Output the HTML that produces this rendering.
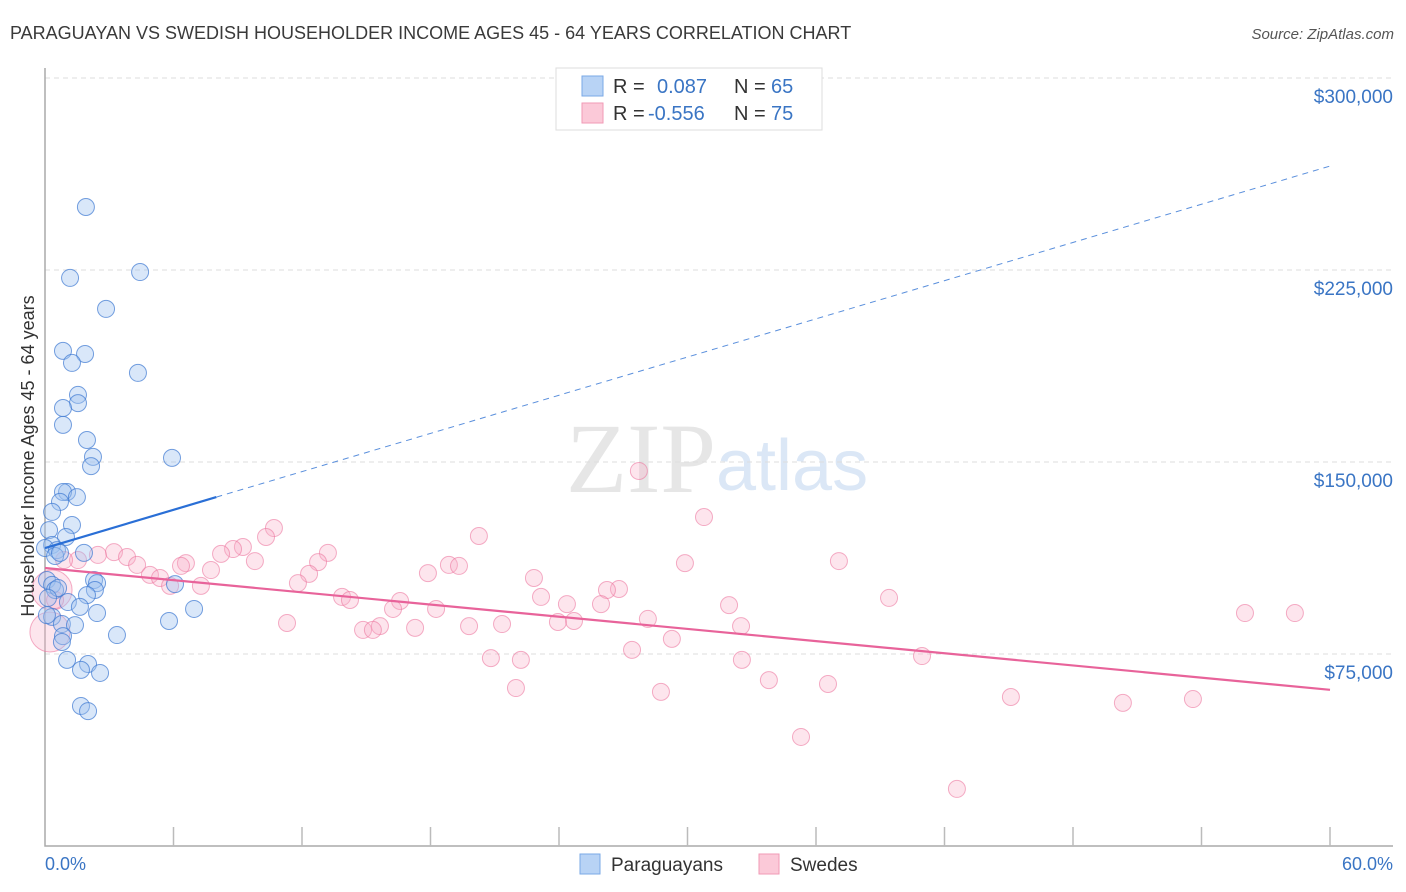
<!DOCTYPE html>
<html><head><meta charset="utf-8"><style>
body{margin:0;background:#fff;font-family:"Liberation Sans",sans-serif;}
#wrap{position:relative;width:1406px;height:892px;overflow:hidden;}
</style></head><body>
<div id="wrap">
<svg id="svg" width="1406" height="892" xmlns="http://www.w3.org/2000/svg">
<text x="10" y="39" font-size="18" fill="#3a3a3a">PARAGUAYAN VS SWEDISH HOUSEHOLDER INCOME AGES 45 - 64 YEARS CORRELATION CHART</text>
<text x="1394" y="39" font-size="15" fill="#555" font-style="italic" text-anchor="end">Source: ZipAtlas.com</text>
<text x="716" y="492" font-size="100" fill="#e6e6e6" text-anchor="end" font-family="Liberation Serif">ZIP</text>
<text x="716" y="490" font-size="72" fill="#dbe7f6">atlas</text>
<g id="grid"></g>
<g id="axes"></g>
<g id="pts"></g>
<g id="lines"></g>
<text transform="translate(34,456) rotate(-90)" font-size="18" fill="#333" text-anchor="middle">Householder Income Ages 45 - 64 years</text>
<g>
<rect x="556" y="68" width="266" height="62" fill="#fff" stroke="#ddd"/>
<rect x="582" y="76" width="21" height="20" fill="#b8d3f5" stroke="#7aa8e6"/>
<rect x="582" y="103" width="21" height="20" fill="#fbc9d8" stroke="#f09ab6"/>
<text x="613" y="93" font-size="20" fill="#333">R =</text>
<text x="657" y="93" font-size="20" fill="#3a75c4">0.087</text>
<text x="734" y="93" font-size="20" fill="#333">N =</text>
<text x="771" y="93" font-size="20" fill="#3a75c4">65</text>
<text x="613" y="120" font-size="20" fill="#333">R =</text>
<text x="648" y="120" font-size="20" fill="#3a75c4">-0.556</text>
<text x="734" y="120" font-size="20" fill="#333">N =</text>
<text x="771" y="120" font-size="20" fill="#3a75c4">75</text>
</g>
<g>
<rect x="580" y="854" width="20" height="20" fill="#b8d3f5" stroke="#7aa8e6"/>
<text x="611" y="871" font-size="19" fill="#333">Paraguayans</text>
<rect x="759" y="854" width="20" height="20" fill="#fbc9d8" stroke="#f09ab6"/>
<text x="790" y="871" font-size="19" fill="#333">Swedes</text>
</g>
<text x="45" y="870" font-size="18" fill="#3a75c4">0.0%</text>
<text x="1393" y="870" font-size="18" fill="#3a75c4" text-anchor="end">60.0%</text>
</svg>
</div>
<script>
const yTicks=[75,150,225,300];
const yTickLabels=["$75,000","$150,000","$225,000","$300,000"];
const blueX=[1.91,1.17,4.44,2.85,0.84,1.87,1.26,4.34,1.54,1.54,0.84,0.84,1.96,5.93,2.24,2.15,1.03,0.84,1.49,0.70,0.33,1.26,0.19,0.98,0.33,0,0.56,1.82,0.47,0.70,0.09,0.33,0.47,0.61,2.29,2.43,6.07,2.33,1.96,0.14,1.07,1.63,6.96,2.43,5.79,0.33,0.79,1.40,0.09,3.36,0.84,0.79,1.03,2.01,1.68,2.57,1.68,2.01];
const blueY=[249.6,221.9,224.2,209.8,193.4,192.2,188.7,184.8,176.2,173.0,171.1,164.5,158.6,151.6,152.0,148.4,138.3,138.3,136.3,134.4,130.5,125.4,123.4,120.7,117.6,116.4,115.6,114.5,113.3,114.5,103.9,102.0,100.0,100.8,103.9,102.7,102.3,100.0,98.0,96.9,95.3,93.4,92.6,91.0,87.9,89.5,86.7,86.3,90.2,82.4,82.0,79.7,72.7,71.1,68.8,67.6,54.7,52.7];
const pinkX=[27.73,30.77,10.69,20.26,10.32,9.24,8.78,8.22,13.21,3.22,3.83,2.47,1.54,0.89,6.58,6.35,4.30,18.86,19.33,29.88,37.07,9.80,12.75,7.75,17.88,4.90,12.33,5.37,22.83,11.81,5.84,7.28,26.80,26.24,13.87,23.16,39.41,14.24,16.58,24.37,25.96,31.94,16.25,18.26,56.03,58.36,28.15,24.70,23.95,11.30,21.34,19.80,32.50,15.64,17.28,14.85,15.31,29.27,27.41,20.82,22.22,32.54,40.95,33.80,36.56,21.99,28.76,45.10,53.60,50.33,35.30,42.58,0.33,0.47,0.23];
const pinkY=[146.5,128.5,124.2,121.1,120.7,116.8,116.0,114.1,114.5,114.8,112.9,113.7,111.7,111.7,110.5,109.4,109.8,109.8,109.4,110.5,111.3,111.3,110.9,107.8,106.6,105.9,106.3,104.7,104.7,102.7,101.6,101.6,100.4,100.0,97.3,97.3,96.9,96.1,95.7,94.5,94.5,94.1,92.6,92.6,91.0,91.0,88.7,87.9,87.5,87.1,86.7,85.9,85.9,85.9,85.2,84.4,84.4,80.9,76.6,73.4,72.7,72.7,74.2,64.8,63.3,61.7,60.2,58.2,57.4,55.9,42.6,22.3,100.0,96.1,83.6];
const blueTrend=[116.4,265.6];
const pinkTrend=[108.6,61.0];
const NS="http://www.w3.org/2000/svg";
const X=v=>45+v/60*1285;
const Y=v=>846-v/75*192;
function mk(tag,attrs,parent){const e=document.createElementNS(NS,tag);for(const k in attrs)e.setAttribute(k,attrs[k]);document.getElementById(parent).appendChild(e);return e;}
yTicks.forEach((t,i)=>{
 const g=mk('line',{x1:45,x2:1393,y1:Y(t),y2:Y(t),stroke:'#ddd','stroke-dasharray':'5,4'},'grid');
 
 
 const l=mk('text',{x:1393,y:Y(t)+25,'font-size':19,fill:'#3a75c4','text-anchor':'end'},'grid');
 l.textContent=yTickLabels[i];
 
 
});
const ax=mk('path',{d:'M45,68 V846 H1393',fill:'none',stroke:'#aaa','stroke-width':1.5},'axes');


for(let i=1;i<=10;i++){
 const t=mk('line',{x1:X(i*6),x2:X(i*6),y1:827,y2:846,stroke:'#bbb','stroke-width':1.5},'axes');
 
 
}
pinkX.forEach((x,i)=>{
 const big=i>=pinkX.length-3&&i!==pinkX.length-2;
 const c=mk('circle',{cx:X(x),cy:Y(pinkY[i]),r:big?20:8.5,fill:'rgba(248,175,199,0.32)',stroke:'rgba(236,120,160,0.6)','stroke-width':1},'pts');
 
 
});
blueX.forEach((x,i)=>{
 const c=mk('circle',{cx:X(x),cy:Y(blueY[i]),r:8.5,fill:'rgba(160,196,240,0.4)',stroke:'rgba(60,120,210,0.7)','stroke-width':1},'pts');
 
 
});
const bAt=x=>blueTrend[0]+(blueTrend[1]-blueTrend[0])*x/60;
const l1=mk('line',{x1:X(0),y1:Y(bAt(0)),x2:X(8),y2:Y(bAt(8)),stroke:'#2a6fd6','stroke-width':2.2},'lines');


const l2=mk('line',{x1:X(8),y1:Y(bAt(8)),x2:X(60),y2:Y(bAt(60)),stroke:'#5a8fdc','stroke-width':1,'stroke-dasharray':'6,5'},'lines');


const l3=mk('line',{x1:X(0),y1:Y(pinkTrend[0]),x2:X(60),y2:Y(pinkTrend[1]),stroke:'#e8639a','stroke-width':2.2},'lines');


</script>
</body></html>
